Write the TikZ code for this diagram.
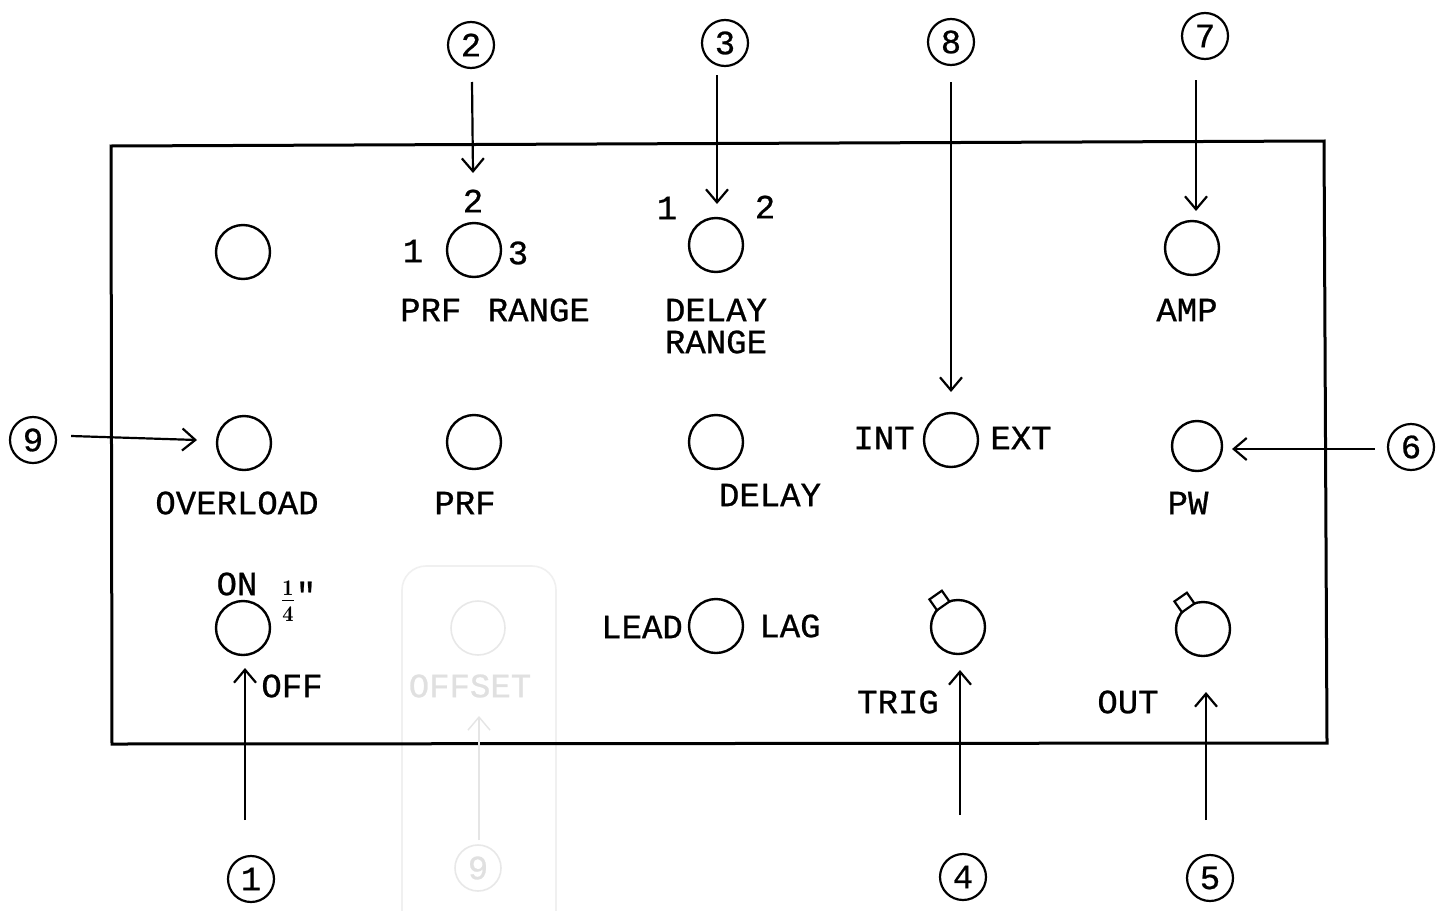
\documentclass[tikz,border=0pt]{standalone}
\usepackage{fontspec}
\newfontfamily\twfont[FakeBold=0.7]{Liberation Mono}
\usetikzlibrary{arrows.meta}
\newcommand\typefont{\twfont\fontsize{17}{20}\selectfont}
\begin{document}
\begin{tikzpicture}[x=0.5pt,y=-0.5pt,
  knob/.style={circle,draw,line width=1.2pt,minimum size=27pt,inner sep=0pt},
  callout/.style={circle,draw,line width=1.1pt,minimum size=23pt,inner sep=0pt,font=\typefont},
  lbl/.style={font=\typefont,inner sep=0pt},
  ptr/.style={line width=1.1pt,-{Straight Barb[length=6.5pt,width=11pt]}},
  fadedline/.style={draw=black!9},
  fadedtext/.style={text=black!12}]
\useasboundingbox (0,0) rectangle (1449,910);
\fill[white] (0,0) rectangle (1449,910);

% faded patch (OFFSET)
\draw[black!6,line width=0.8pt,rounded corners=12pt] (402,912) -- (402,566) -- (556,566) -- (556,912);

% panel
\draw[line width=1.5pt] (111,146) -- (1324,141) -- (1327,743) -- (112,744) -- cycle;

% knobs
\node[knob] (blank) at (243,252) {};
\node[knob] (prfr)  at (474,250) {};
\node[knob] (dlyr)  at (716,245) {};
\node[knob] (amp)   at (1192,248) {};
\node[knob] (ovl)   at (244,443) {};
\node[knob] (prf)   at (474,442) {};
\node[knob] (dly)   at (716,442) {};
\node[knob] (intext) at (951,440) {};
\node[knob,minimum size=25pt] (pw) at (1197,446) {};
\node[knob] (onoff) at (243,628) {};
\node[knob,fadedline,line width=0.8pt] (offset) at (478,628) {};
\node[knob] (leadlag) at (716,626) {};
\node[knob] (trig)  at (958,627) {};
\node[knob] (out)   at (1203,629) {};

% tabs on TRIG and OUT knobs
\foreach \k in {trig,out}{
  \begin{scope}[shift={(\k.125)},rotate=35]
    \draw[line width=1.1pt,fill=white] (-3.8pt,-1.2pt) rectangle (3.8pt,5.4pt);
  \end{scope}
}

% labels
\node[lbl] (p2) at (473,201) {2};
\node[lbl] (p1) at (413,251) {1};
\node[lbl] (p3) at (518,253) {3};
\node[lbl] (prfrl) at (495,310) {PRF\hspace{3pt} RANGE};
\node[lbl] (d1) at (667,208) {1};
\node[lbl] (d2) at (765,207) {2};
\node[lbl] (dlyl1) at (716,310) {DELAY};
\node[lbl] (dlyl2) at (716,342) {RANGE};
\node[lbl] (ampl) at (1187,310) {AMP};
\node[lbl] (ovll) at (237,503) {OVERLOAD};
\node[lbl] (prfl) at (465,503) {PRF};
\node[lbl] (dlyl) at (770,495) {DELAY};
\node[lbl] (intl) at (884,438) {INT};
\node[lbl] (extl) at (1021,438) {EXT};
\node[lbl] (pwl) at (1188,503) {PW};
\node[lbl] (onl) at (237,584) {ON};
\node[inner sep=0pt,font=\fontsize{16}{16}\selectfont] (qtr) at (288,601) {$\mathbf{\frac{1}{4}}$};
\node[lbl] (qtrq) at (306,594) {"};
\node[lbl] (offl) at (292,686) {OFF};
\node[lbl,fadedtext] (offsetl) at (470,686) {OFFSET};
\node[lbl] (leadl) at (642,627) {LEAD};
\node[lbl] (lagl) at (790,626) {LAG};
\node[lbl] (trigl) at (898,702) {TRIG};
\node[lbl] (outl) at (1128,702) {OUT};

% callouts
\node[callout] (c2) at (471,45) {2};
\node[callout] (c3) at (725,43) {3};
\node[callout] (c8) at (951,42) {8};
\node[callout] (c7) at (1205,36) {7};
\node[callout] (c9) at (33,440) {9};
\node[callout] (c6) at (1411,447) {6};
\node[callout] (c1) at (251,879) {1};
\node[callout] (c4) at (963,877) {4};
\node[callout] (c5) at (1210,878) {5};
\node[callout,fadedline,fadedtext,line width=0.8pt] (c9b) at (478,868) {9};

% pointers
\coordinate (e2) at (473,173);
\coordinate (e3) at (717,204);
\coordinate (e8) at (951,392);
\coordinate (e7) at (1196,211);
\coordinate (e9) at (197,440);
\coordinate (e6) at (1232,449);
\coordinate (e1) at (245,668);
\coordinate (e4) at (960,670);
\coordinate (e5) at (1206,692);
\coordinate (e9b) at (479,716);
\draw[ptr] (472,82) -- (e2);
\draw[ptr] (717,75) -- (e3);
\draw[ptr] (951,82) -- (e8);
\draw[ptr] (1196,80) -- (e7);
\draw[ptr] (c9.east) ++(14,-4) -- (e9);
\draw[ptr] (c6.west) ++(-12,2) -- (e6);
\draw[ptr] (245,820) -- (e1);
\draw[ptr] (960,815) -- (e4);
\draw[ptr] (1206,820) -- (e5);
\draw[ptr,draw=black!10,line width=0.7pt] (479,840) -- (e9b);
\end{tikzpicture}
\end{document}
